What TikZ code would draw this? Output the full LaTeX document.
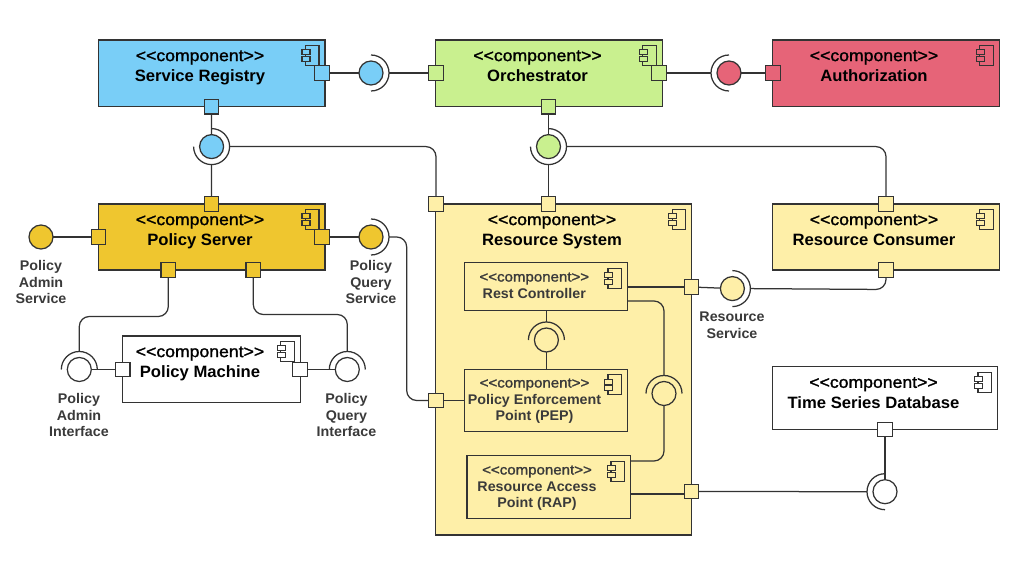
\documentclass[tikz,border=0pt]{standalone}
\usepackage{fontspec}
\newfontfamily\namefont[FakeStretch=1.015]{Liberation Sans Bold}
\newfontfamily\stereofont[FakeStretch=1.075,FakeBold=1.5]{Liberation Sans}
\newfontfamily\smallfont[FakeStretch=1.02]{Liberation Sans Bold}
\pgfdeclarelayer{fg}
\pgfsetlayers{main,fg}
\definecolor{lineC}{HTML}{333333}
\definecolor{blueC}{HTML}{79CEF7}
\definecolor{greenC}{HTML}{C9F08F}
\definecolor{redC}{HTML}{E66478}
\definecolor{yellowC}{HTML}{FEEFA8}
\definecolor{goldC}{HTML}{EFC62F}
\definecolor{txtC}{HTML}{3A3A3A}
\tikzset{
  box/.style={draw=lineC,line width=1.25pt,rectangle,inner sep=0pt,outer sep=0pt},
  portbox/.style={draw=lineC,line width=1.25pt,rectangle,minimum size=14.5pt,inner sep=0pt,outer sep=0pt},
  sock/.style={circle,minimum size=36pt,inner sep=0pt,outer sep=0pt},
  lol/.style={circle,draw=lineC,line width=1.25pt,minimum size=24pt,inner sep=0pt,outer sep=0pt},
  conn/.style={draw=lineC,line width=1.25pt,rounded corners=10pt},
  bigtext/.style={anchor=north,align=center,inner sep=0pt,text=black,font=\fontsize{16.4}{20.5}\selectfont},
  inntext/.style={anchor=north,align=center,inner sep=0pt,text=txtC,font=\fontsize{14}{16.6}\selectfont},
  labeltext/.style={anchor=north,align=center,inner sep=0pt,text=txtC,font=\smallfont\fontsize{14}{16.8}\selectfont}
}
\newcommand{\compicon}[2]{%
  \begin{scope}[shift={(#1.north east)}]
    \draw[draw=lineC,line width=1.1pt] (-19.7,5.5) rectangle (-6,25.5);
    \draw[draw=lineC,line width=1.1pt,fill=#2] (-23,9.8) rectangle (-15,14.8);
    \draw[draw=lineC,line width=1.1pt,fill=#2] (-23,16.5) rectangle (-15,21.5);
  \end{scope}}
% name, x, y, fill, start angle, end angle (angles run clockwise on screen)
\newcommand{\lollipop}[6]{%
  \begin{pgfonlayer}{fg}
    \node[sock] (#1) at (#2,#3) {};
    \node[lol,fill=#4] (#1-c) at (#1.center) {};
    \draw[draw=lineC,line width=1.25pt] (#1.center) ++(#5:18) arc[start angle=#5,end angle=#6,radius=18];
  \end{pgfonlayer}}
\newcommand{\portat}[4]{%
  \begin{pgfonlayer}{fg}
    \node[portbox,fill=#4] (#1) at (#2,#3) {};
  \end{pgfonlayer}}
\newcommand{\bigcomp}[1]{{\stereofont <{}<component>{}>}\\{\namefont #1}}
\begin{document}
\begin{tikzpicture}[x=1pt,y=-1pt]
\useasboundingbox (0,0) rectangle (1025,561);
\fill[white] (0,0) rectangle (1025,561);

% boxes
\node[box,fill=blueC,minimum width=226.5pt,minimum height=66.7pt] (sr) at (211.75,73.35) {};
\node[box,fill=greenC,minimum width=226.5pt,minimum height=66.7pt] (or) at (549,73.35) {};
\node[box,fill=redC,minimum width=226.5pt,minimum height=66.7pt] (au) at (886,73.35) {};
\node[box,fill=goldC,minimum width=226.5pt,minimum height=66pt] (ps) at (211.75,237) {};
\node[box,fill=yellowC,minimum width=226.5pt,minimum height=66pt] (rc) at (886,237) {};
\node[box,fill=white,minimum width=178pt,minimum height=66.4pt] (pm) at (211.6,369.2) {};
\node[box,fill=yellowC,minimum width=256pt,minimum height=331pt] (rs) at (563.8,369.5) {};
\node[box,fill=white,minimum width=225pt,minimum height=62.7pt] (ts) at (885.2,398) {};
\node[box,fill=yellowC,minimum width=163pt,minimum height=47.6pt] (rest) at (546.2,286.5) {};
\node[box,fill=yellowC,minimum width=163pt,minimum height=62.4pt] (pep) at (546.2,400.5) {};
\node[box,fill=yellowC,minimum width=163.7pt,minimum height=62.6pt] (rap) at (548.85,487) {};

\compicon{sr}{blueC}\compicon{or}{greenC}\compicon{au}{redC}
\compicon{ps}{goldC}\compicon{rc}{yellowC}\compicon{pm}{white}
\compicon{rs}{yellowC}\compicon{ts}{white}\compicon{rest}{yellowC}
\compicon{pep}{yellowC}\compicon{rap}{yellowC}

% component texts
\node[bigtext] (sr-t) at (200,50.3) {\bigcomp{Service Registry}};
\node[bigtext] (or-t) at (537.5,50.3) {\bigcomp{Orchestrator}};
\node[bigtext] (au-t) at (874,50.3) {\bigcomp{Authorization}};
\node[bigtext] (ps-t) at (200,214.3) {\bigcomp{Policy Server}};
\node[bigtext] (rc-t) at (874,214.3) {\bigcomp{Resource Consumer}};
\node[bigtext] (pm-t) at (200,346.3) {\bigcomp{Policy Machine}};
\node[bigtext] (rs-t) at (552,214.3) {\bigcomp{Resource System}};
\node[bigtext] (ts-t) at (873.5,377) {\bigcomp{Time Series Database}};
\node[inntext] (rest-t) at (534.3,272.3) {{\stereofont <{}<component>{}>}\\{\smallfont Rest Controller}};
\node[inntext] (pep-t) at (534.5,378.3) {{\stereofont <{}<component>{}>}\\{\smallfont Policy Enforcement}\\{\smallfont Point (PEP)}};
\node[inntext] (rap-t) at (537,465.3) {{\stereofont <{}<component>{}>}\\{\smallfont Resource Access}\\{\smallfont Point (RAP)}};

% external labels
\node[labeltext] (l-pas) at (41,260) {Policy\\Admin\\Service};
\node[labeltext] (l-pqs) at (371,260) {Policy\\Query\\Service};
\node[labeltext] (l-pai) at (79,393) {Policy\\Admin\\Interface};
\node[labeltext] (l-pqi) at (346.5,393) {Policy\\Query\\Interface};
\node[labeltext] (l-res) at (732,312) {Resource\\Service};

% ports
\portat{sr-e}{322}{73}{blueC}
\portat{sr-s}{211.5}{106.7}{blueC}
\portat{or-w}{436}{73}{greenC}
\portat{or-e}{659}{73}{greenC}
\portat{or-s}{548.5}{106.7}{greenC}
\portat{au-w}{773}{73}{redC}
\portat{ps-n}{211.5}{204}{goldC}
\portat{ps-w}{98.5}{237}{goldC}
\portat{ps-e}{322}{237}{goldC}
\portat{ps-s1}{168.3}{270}{goldC}
\portat{ps-s2}{253.3}{270}{goldC}
\portat{pm-w}{122.7}{369.5}{white}
\portat{pm-e}{300}{369.5}{white}
\portat{rs-n1}{436}{204}{yellowC}
\portat{rs-n2}{548.5}{204}{yellowC}
\portat{rs-w}{436}{400.5}{yellowC}
\portat{rs-e1}{691.5}{287}{yellowC}
\portat{rs-e2}{691.5}{491.5}{yellowC}
\portat{rc-n}{886}{204}{yellowC}
\portat{rc-s}{886}{270}{yellowC}
\portat{ts-s}{885}{429.5}{white}

% lollipops with sockets
\lollipop{l1}{371}{73}{blueC}{-90}{90}
\lollipop{l2}{729}{73}{redC}{90}{270}
\lollipop{l3}{211.6}{146.6}{blueC}{-90}{180}
\lollipop{l4}{548.5}{146.6}{greenC}{-90}{180}
\lollipop{l6}{371}{237}{goldC}{-90}{90}
\lollipop{l7}{79.3}{369.5}{white}{180}{360}
\lollipop{l8}{347.3}{369.5}{white}{180}{360}
\lollipop{l9}{546.4}{340}{yellowC}{180}{360}
\lollipop{l10}{664}{393.5}{yellowC}{180}{360}
\lollipop{l11}{732.4}{288.6}{yellowC}{-90}{90}
\lollipop{l12}{885}{491.7}{white}{90}{270}
\begin{pgfonlayer}{fg}
\node[lol,fill=goldC] (l5) at (41,237) {};
\end{pgfonlayer}

% connectors
\draw[conn] (sr-e) -- (l1-c);
\draw[conn] (l1.east) -- (or-w);
\draw[conn] (or-e) -- (l2.west);
\draw[conn] (l2-c) -- (au-w);
\draw[conn] (sr-s) -- (l3-c);
\draw[conn] (l3.south) -- (ps-n);
\draw[conn] (l3.east) -- (436,146.6) -- (rs-n1);
\draw[conn] (or-s) -- (l4-c);
\draw[conn] (l4.south) -- (rs-n2);
\draw[conn] (l4.east) -- (886,146.6) -- (rc-n);
\draw[conn] (l5) -- (ps-w);
\draw[conn] (ps-e) -- (l6-c);
\draw[conn] (l6.east) -- (406.7,237) -- (406.7,400.5) -- (rs-w);
\draw[conn] (ps-s1) -- (168.3,316.5) -- (79.3,316.5) -- (l7.north);
\draw[conn] (ps-s2) -- (253.3,314.5) -- (347.3,314.5) -- (l8.north);
\draw[conn] (l7-c) -- (pm-w);
\draw[conn] (pm-e) -- (l8-c);
\draw[conn] (rs-w) -- (pep.west);
\draw[conn] (rest.south -| l9) -- (l9.north);
\draw[conn] (l9-c) -- (pep.north -| l9);
\draw[conn] (rest.east |- rs-e1) -- (rs-e1);
\draw[conn] (rs-e1) -- (l11-c);
\draw[conn] (l11.east) -- (886,289.5) -- (rc-s);
\draw[conn] (627.7,301) -- (664,301) -- (l10.north);
\draw[conn] (l10-c) -- (664,461) -- (630.7,461);
\draw[conn] (630.7,494) -- (684.5,494);
\draw[conn] (rs-e2) -- (l12.west);
\draw[conn] (ts-s) -- (l12-c);
\end{tikzpicture}
\end{document}
